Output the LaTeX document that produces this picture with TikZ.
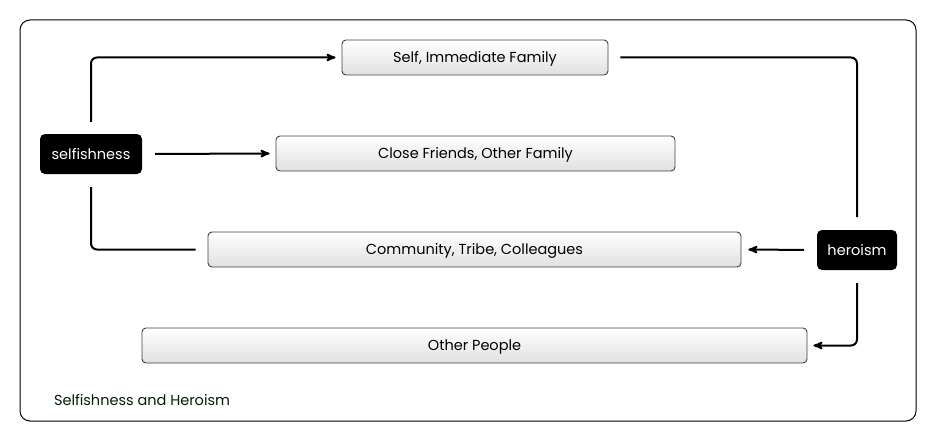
\documentclass[tikz,border=0pt]{standalone}
\usepackage{fontspec}
\setmainfont{Poppins}
\usetikzlibrary{arrows,positioning}

\begin{document}
\begin{tikzpicture}[x=1pt,y=-1pt,>=stealth',line width=2pt,
		group node/.style={draw=black!75,line width=0.9pt,rounded corners=4pt,top color=white,bottom color=black!12,
			minimum height=35pt,inner sep=0pt,text height=10.2pt,text depth=0pt,font=\fontsize{14.5}{16}\selectfont},
		main node/.style={fill=black,text=white,rounded corners=5pt,minimum height=40pt,inner sep=0pt,
			text height=10.2pt,text depth=0pt,font=\fontsize{14.5}{16}\selectfont},
		link/.style={rounded corners=6pt,shorten <=12pt,shorten >=6pt}]
		
		\useasboundingbox (0,0) rectangle (936,441);
		\draw[line width=1pt,rounded corners=10pt] (20,20) rectangle (916,421);
		
		\node[group node,minimum width=266pt] (self) at (475,57.5) {Self, Immediate Family};
		\node[group node,minimum width=399pt] (friends) at (475.5,153.5) {Close Friends, Other Family};
		\node[group node,minimum width=533pt] (tribe) at (474.5,249.5) {Community, Tribe, Colleagues};
		\node[group node,minimum width=665pt] (others) at (474.5,345.5) {Other People};
		
		\node[main node,minimum width=102pt] (selfish) at (91,154) {selfishness};
		\node[main node,minimum width=80pt] (hero) at (857,250) {heroism};
		
		\node[anchor=base west,inner sep=0pt,text=black!70!green!40!black,font=\fontsize{14.5}{16}\selectfont] (caption) at (53,405) {Selfishness and Heroism};
		
		% selfishness side
		\draw[->,link,shorten <=11pt] (selfish.north) |- (self.west);
		\draw[->,link] (selfish.east) -- (friends.west);
		\draw[link,shorten >=12pt] (selfish.south) |- (tribe.west);
		
		% heroism side
		\draw[link,shorten >=12pt] (self.east) -| (hero.north);
		\draw[->,link,shorten >=7pt] (hero.west) -- (tribe.east);
		\draw[->,link] (hero.south) |- (others.east);
\end{tikzpicture}
\end{document}
